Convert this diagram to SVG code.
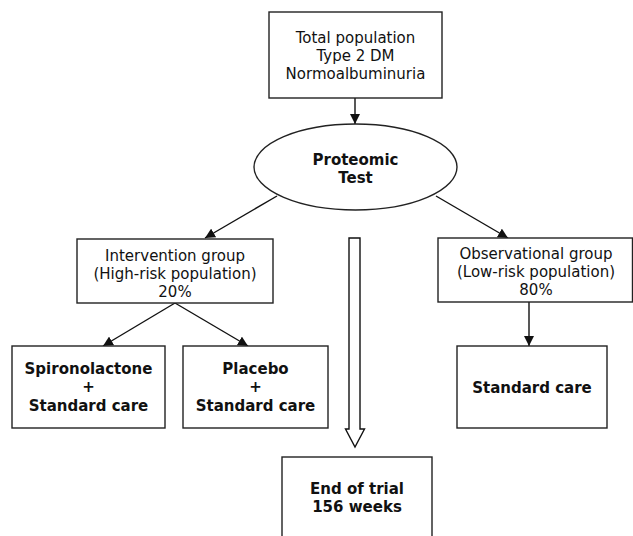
<svg xmlns="http://www.w3.org/2000/svg" width="633" height="536" viewBox="0 0 633 536">
<style>
.box{fill:#fff;stroke:#222;stroke-width:1.4}
.t{font-family:"DejaVu Sans",Verdana,sans-serif;font-size:15px;fill:#111;text-anchor:middle}
.b{font-weight:bold}
.c{stroke:#111;stroke-width:1.4;fill:none}
</style>
<defs>
<marker id="ah" viewBox="0 0 10 10" refX="10" refY="5" markerWidth="10" markerHeight="10" markerUnits="userSpaceOnUse" orient="auto">
<path d="M0,0 L10,5 L0,10 Z" fill="#111"/>
</marker>
</defs>
<rect width="633" height="536" fill="#fff"/>
<g id="connectors">
<line class="c" x1="355" y1="98" x2="355" y2="124" marker-end="url(#ah)"/>
<line class="c" x1="277" y1="196" x2="205" y2="238" marker-end="url(#ah)"/>
<line class="c" x1="436" y1="196" x2="508" y2="238" marker-end="url(#ah)"/>
<line class="c" x1="175" y1="303" x2="103" y2="346" marker-end="url(#ah)"/>
<line class="c" x1="175" y1="303" x2="248" y2="346" marker-end="url(#ah)"/>
<line class="c" x1="529" y1="302" x2="529" y2="346" marker-end="url(#ah)"/>
<path class="c" d="M349,238 L360,238 L360,429 L364.5,429 L355,447 L345.5,429 L349,429 Z" fill="#fff"/>
</g>
<g id="n-total">
<rect class="box" x="269" y="12" width="173" height="86"/>
<text class="t" x="355.5" y="43">Total population</text>
<text class="t" x="355.5" y="61">Type 2 DM</text>
<text class="t" x="355.5" y="79">Normoalbuminuria</text>
</g>
<g id="n-proteomic">
<ellipse class="box" cx="355.5" cy="167" rx="101.5" ry="43"/>
<text class="t b" x="355.5" y="165">Proteomic</text>
<text class="t b" x="355.5" y="183">Test</text>
</g>
<g id="n-intervention">
<rect class="box" x="77" y="239" width="196" height="64"/>
<text class="t" x="175" y="261">Intervention group</text>
<text class="t" x="175" y="279">(High-risk population)</text>
<text class="t" x="175" y="297">20%</text>
</g>
<g id="n-observational">
<rect class="box" x="438" y="238" width="194.5" height="64"/>
<text class="t" x="536" y="259">Observational group</text>
<text class="t" x="536" y="277">(Low-risk population)</text>
<text class="t" x="536" y="295">80%</text>
</g>
<g id="n-spiro">
<rect class="box" x="12" y="346" width="153" height="82"/>
<text class="t b" x="88.5" y="374">Spironolactone</text>
<text class="t b" x="88.5" y="392">+</text>
<text class="t b" x="88.5" y="411">Standard care</text>
</g>
<g id="n-placebo">
<rect class="box" x="183" y="346" width="145" height="82"/>
<text class="t b" x="255.5" y="374">Placebo</text>
<text class="t b" x="255.5" y="392">+</text>
<text class="t b" x="255.5" y="411">Standard care</text>
</g>
<g id="n-standard">
<rect class="box" x="457" y="346" width="150" height="82"/>
<text class="t b" x="532" y="393">Standard care</text>
</g>
<g id="n-end">
<rect class="box" x="282" y="457" width="150" height="90"/>
<text class="t b" x="357" y="494">End of trial</text>
<text class="t b" x="357" y="512">156 weeks</text>
</g>
</svg>
